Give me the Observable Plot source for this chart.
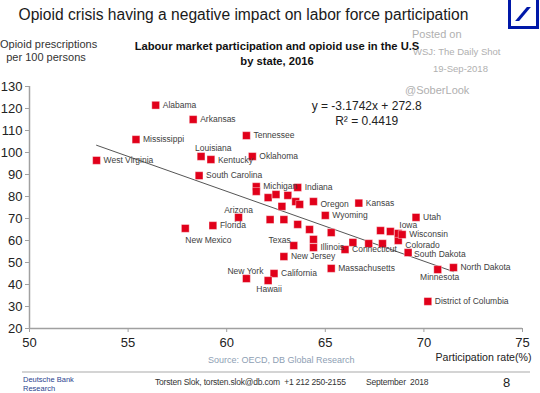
<!DOCTYPE html>
<html>
<head>
<meta charset="utf-8">
<script src="https://cdn.jsdelivr.net/npm/d3@7"></script>
<script src="https://cdn.jsdelivr.net/npm/@observablehq/plot@0.6"></script>
<style>
  html, body { margin: 0; padding: 0; background: #fff; }
  body { font-family: "Liberation Sans", Arial, sans-serif; }
  #wrap { position: relative; width: 540px; height: 393px; overflow: hidden; background: #fff; }
  #title { position: absolute; left: 0; top: 6px; width: 487px; text-align: center; font-size: 15.6px; color: #1a1a1a; white-space: nowrap; }
  #logo { position: absolute; left: 508px; top: -3px; width: 25px; height: 26px; border: 3px solid #0018a8; box-sizing: content-box; }
  #logo div { position: absolute; left: 10px; top: 7px; width: 4px; height: 14px; background: #0018a8; transform: skewX(-40deg); }
  #chart { position: absolute; left: 0; top: 30px; }
  .abs { position: absolute; white-space: nowrap; }
  #ylab { left: 0; top: 38px; width: 92px; text-align: center; font-size: 11px; line-height: 13px; color: #333; }
  #sub { left: 120px; top: 39px; width: 314px; text-align: center; font-size: 11.2px; font-weight: bold; line-height: 15px; color: #111; }
  .posted { color: #b0b0b0; font-size: 10px; }
  #foot { left: 22px; top: 371px; width: 508px; border-top: 2px solid #d4d4d4; }
  .ft { font-size: 8.5px; letter-spacing: -0.2px; color: #333; }
</style>
</head>
<body>
<div id="wrap">
  <div id="title">Opioid crisis having a negative impact on labor force participation</div>
  <div id="logo"><div></div></div>
  <div id="chart"></div>
  <div class="abs" id="ylab">Opioid prescriptions<br>per 100 persons</div>
  <div class="abs" id="sub">Labour market participation and opioid use in the U.S<br>by state, 2016</div>
  <div class="abs posted" style="left:412px;top:28px;font-size:11px;">Posted on</div>
  <div class="abs posted" style="left:413px;top:46px;font-size:9.5px;">WSJ: The Daily Shot</div>
  <div class="abs posted" style="left:433px;top:63px;font-size:9.5px;">19-Sep-2018</div>
  <div class="abs posted" style="left:405px;top:84px;font-size:11px;">@SoberLook</div>
  <div class="abs" style="left:208px;top:355px;font-size:9px;color:#8ea0b4;">Source: OECD, DB Global Research</div>
  <div class="abs" id="foot"></div>
  <div class="abs" style="left:23px;top:375px;font-size:7.5px;color:#2a3f8f;line-height:9px;">Deutsche Bank<br>Research</div>
  <div class="abs ft" style="left:155px;top:377px;">Torsten Slok, torsten.slok@db.com&nbsp; +1 212 250-2155</div>
  <div class="abs ft" style="left:366px;top:377px;">September&nbsp; 2018</div>
  <div class="abs" style="left:503px;top:375px;font-size:13px;color:#222;">8</div>
</div>
<script>
// ---- Data ----
const states = [
  "Alabama", "Arkansas", "Mississippi", "West Virginia", "Tennessee",
  "Louisiana", "Kentucky", "Oklahoma", "South Carolina", "Michigan",
  "", "Indiana", "", "", "",
  "", "", "Oregon", "", "Wyoming",
  "", "", "Arizona", "Florida", "New Mexico",
  "", "", "", "Kansas", "Texas",
  "", "Illinois", "", "Connecticut", "New Jersey",
  "Massachusetts", "California", "New York", "Hawaii", "",
  "", "South Dakota", "Minnesota", "North Dakota", "District of Columbia",
  "Colorado", "Utah", "", "", "Iowa",
  "Wisconsin"
];
const participation = [
  56.4, 58.3, 55.4, 53.4, 61.0,
  58.7, 59.2, 61.3, 58.6, 61.5,
  61.5, 63.6, 62.1, 62.5, 63.1,
  63.5, 63.7, 64.4, 62.8, 65.0,
  62.2, 62.9, 60.6, 59.3, 57.9,
  63.6, 64.2, 65.3, 66.7, 63.4,
  64.4, 64.4, 66.4, 66.0, 62.9,
  65.3, 62.4, 61.0, 62.1, 67.2,
  67.9, 69.2, 70.7, 71.5, 70.2,
  68.7, 69.6, 67.8, 68.3, 68.7,
  68.9
];
const prescriptions = [
  121.5, 115.0, 105.9, 96.4, 107.7,
  98.2, 96.8, 98.2, 89.5, 84.5,
  82.3, 84.1, 79.5, 80.9, 80.5,
  77.7, 76.4, 77.7, 75.5, 71.4,
  69.5, 69.5, 70.5, 66.8, 65.5,
  67.3, 65.0, 63.6, 77.0, 57.7,
  60.5, 56.8, 59.1, 55.9, 52.7,
  47.3, 45.0, 42.7, 41.8, 58.6,
  58.6, 54.5, 46.8, 47.7, 32.3,
  60.0, 70.5, 64.5, 64.1, 63.2,
  62.7
];
// Trend line as printed on the chart
const slope = -3.1742;
const intercept = 272.8;
const r2 = 0.4419;
const xTicks = [50, 55, 60, 65, 70, 75];
const yTicks = [20, 30, 40, 50, 60, 70, 80, 90, 100, 110, 120, 130];

// ---- Build ----
const data = states.map((s, i) => ({state: s, x: participation[i], y: prescriptions[i]}));
const [x0, x1] = d3.extent(participation);
const trend = [x0, x1].map(x => ({x, y: slope * x + intercept}));

// label placement (style only)
const place = {
  "Louisiana": {anchor: "start", dx: -6, dy: -8},
  "Arizona": {anchor: "middle", dx: 0, dy: -7},
  "New York": {anchor: "middle", dx: -1, dy: -7},
  "Hawaii": {anchor: "middle", dx: 1, dy: 9},
  "New Mexico": {anchor: "start", dx: 0, dy: 12},
  "Minnesota": {anchor: "middle", dx: 2, dy: 8},
  "Texas": {anchor: "end", dx: -3, dy: -5},
  "Iowa": {anchor: "start", dx: 1, dy: -8},
  "Wisconsin": {anchor: "start", dx: 7, dy: -0.5},
  "Colorado": {anchor: "start", dx: 7, dy: 4.5},
  "Kentucky": {anchor: "start", dx: 7, dy: 1},
  "Oregon": {anchor: "start", dx: 7, dy: 3},
  "South Dakota": {anchor: "start", dx: 6, dy: 2}
};
const labelMarks = data.filter(d => d.state).map(d => {
  const p = place[d.state] || {anchor: "start", dx: 7, dy: 0};
  return Plot.text([d], {
    x: "x", y: "y", text: "state",
    textAnchor: p.anchor, dx: p.dx, dy: p.dy,
    fontSize: 8.5, fill: "#404040"
  });
});

const chart = Plot.plot({
  width: 540,
  height: 342,
  marginLeft: 29,
  marginRight: 18,
  marginTop: 56,
  marginBottom: 44,
  style: {fontFamily: "Liberation Sans, Arial, sans-serif", color: "#222", background: "transparent"},
  x: {domain: [50, 75]},
  y: {domain: [20, 130]},
  marks: [
    Plot.axisX({ticks: xTicks, tickSize: 4, tickPadding: 5, fontSize: 13, stroke: "#a0a0a0", label: null}),
    Plot.axisY({ticks: yTicks, tickSize: 4, tickPadding: 3, fontSize: 13, stroke: "#a0a0a0", label: null}),
    Plot.ruleX([50], {stroke: "#a0a0a0", strokeWidth: 1.5}),
    Plot.ruleY([20], {stroke: "#a0a0a0", strokeWidth: 1.5}),
    Plot.text(["Participation rate(%)"], {frameAnchor: "bottom-right", dy: 32, dx: 9, textAnchor: "end", fontSize: 10.6, fill: "#222"}),
    Plot.line(trend, {x: "x", y: "y", stroke: "#555", strokeWidth: 1}),
    Plot.text([`y = ${slope}x + ${intercept}\nR² = ${r2}`], {x: 67.1, y: 118, textAnchor: "middle", lineHeight: 1.25, fontSize: 12, fill: "#222"}),
    Plot.dot(data, {x: "x", y: "y", symbol: "square", r: 4.4, fill: "#e1001a", stroke: "white", strokeWidth: 0.4}),
    ...labelMarks
  ]
});
document.getElementById("chart").appendChild(chart);
</script>
</body>
</html>
